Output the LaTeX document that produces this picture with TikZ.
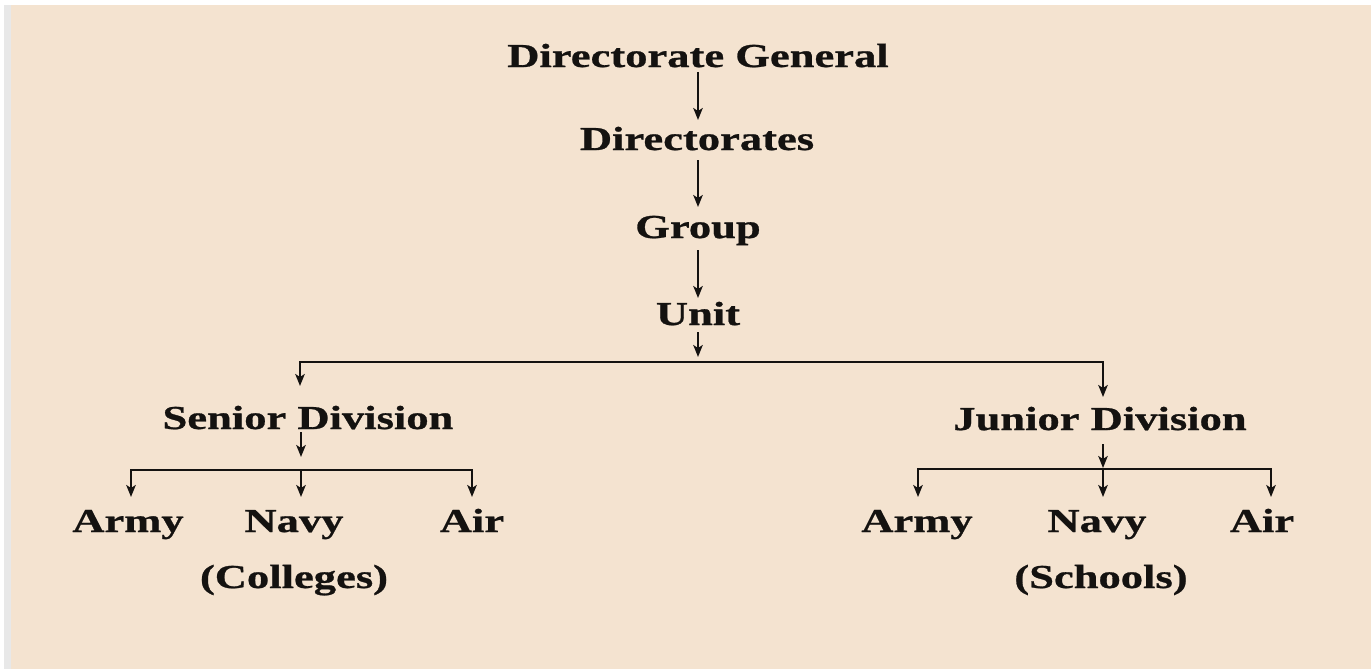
\documentclass[tikz,border=0pt]{standalone}
\usepackage{fontspec}
\setmainfont[FakeStretch=1.33,FakeBold=0.8]{Liberation Serif}
\usetikzlibrary{arrows.meta}
\definecolor{bg}{RGB}{244,227,208}
\definecolor{ink}{RGB}{20,18,16}
\definecolor{edge}{RGB}{232,232,232}
\begin{document}
\begin{tikzpicture}[x=1pt,y=-1pt,
  lbl/.style={font=\fontsize{33.5}{38}\selectfont\bfseries, text=ink, inner sep=0pt, outer sep=0pt, anchor=base, text height=22pt, text depth=5pt},
  arr/.style={draw=ink, line width=1.8pt, -{Stealth[length=12pt,width=9.5pt,inset=3pt]}},
  ln/.style={draw=ink, line width=1.8pt, line cap=rect}]
\fill[white] (0,0) rectangle (1371,669);
\fill[edge] (4,5) rectangle (11,669);
\fill[bg] (11,5) rectangle (1371,669);
\useasboundingbox (0,0) rectangle (1371,669);

\node[lbl] (dg) at (698,67) {Directorate General};
\node[lbl] (dirs) at (697,150) {Directorates};
\node[lbl] (grp) at (698,238) {Group};
\node[lbl] (unit) at (698,325) {Unit};
\node[lbl] (sen) at (308,429) {Senior Division};
\node[lbl] (jun) at (1100,430) {Junior Division};
\node[lbl] (sarmy) at (128,532) {Army};
\node[lbl] (snavy) at (294,532) {Navy};
\node[lbl] (sair) at (472,532) {Air};
\node[lbl] (jarmy) at (917,532) {Army};
\node[lbl] (jnavy) at (1097,532) {Navy};
\node[lbl] (jair) at (1262,532) {Air};
\node[lbl] (coll) at (294,588) {(Colleges)};
\node[lbl] (sch) at (1101,588) {(Schools)};

\coordinate (bus) at (698,362);
\coordinate (busL) at (300,362);
\coordinate (busR) at (1103,362);
\coordinate (sbus) at (301,470);
\coordinate (sbusL) at (131,470);
\coordinate (sbusR) at (472,470);
\coordinate (jbus) at (1103,469);
\coordinate (jbusL) at (918,469);
\coordinate (jbusR) at (1271,469);

\draw[arr, shorten >=8pt] (dg.south) -- (dg.south |- dirs.north);
\draw[arr, shorten <=5pt, shorten >=9pt] (grp.north |- dirs.south) -- (grp.north);
\draw[arr, shorten <=7pt, shorten >=5pt] (grp.south) -- (unit.north);
\draw[arr, shorten <=2pt, shorten >=5pt] (unit.south) -- (bus);

\draw[ln] (busL) -- (busR);
\draw[arr, shorten >=21pt] (busL) -- (busL |- sen.north);
\draw[arr, shorten >=11pt] (busR) -- (busR |- jun.north);

\draw[arr, shorten <=-2pt, shorten >=13pt] (sbus |- sen.south) -- (sbus);
\draw[ln] (sbusL) -- (sbusR);
\draw[arr, shorten >=13pt] (sbusL) -- (sbusL |- sarmy.north);
\draw[arr, shorten >=13pt] (sbus) -- (sbus |- snavy.north);
\draw[arr, shorten >=13pt] (sbusR) -- (sbusR |- sair.north);

\draw[arr, shorten <=9pt, shorten >=1pt] (jbus |- jun.south) -- (jbus);
\draw[ln] (jbusL) -- (jbusR);
\draw[arr, shorten >=13pt] (jbusL) -- (jbusL |- jarmy.north);
\draw[arr, shorten >=13pt] (jbus) -- (jbus |- jnavy.north);
\draw[arr, shorten >=13pt] (jbusR) -- (jbusR |- jair.north);
\end{tikzpicture}
\end{document}
